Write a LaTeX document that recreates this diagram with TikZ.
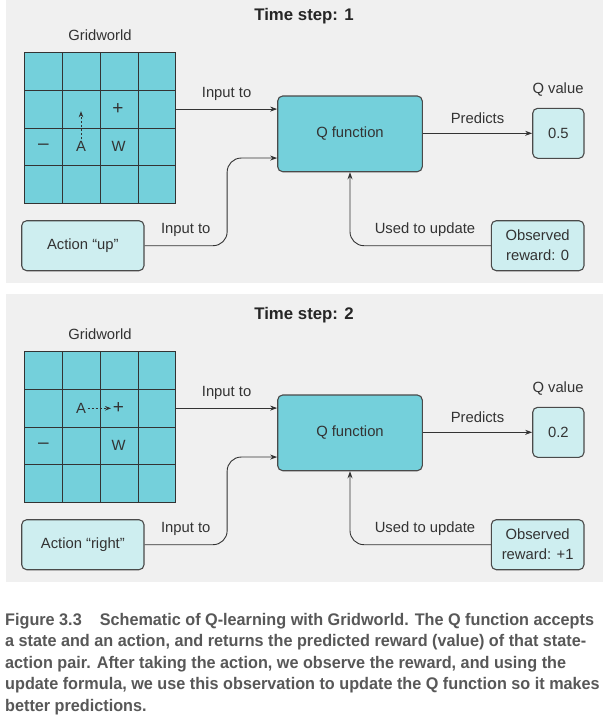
\documentclass[tikz,border=0pt]{standalone}
\usepackage{fontspec}
\setmainfont{Liberation Sans}
\newfontfamily\capfont[FakeStretch=0.965]{Liberation Sans}
\usetikzlibrary{calc,arrows.meta}
\definecolor{panelbg}{HTML}{F0F0F0}
\definecolor{tealfill}{HTML}{74D0DB}
\definecolor{lightfill}{HTML}{CEEEF0}
\definecolor{edgegray}{HTML}{4A4A4A}
\definecolor{ink}{HTML}{333333}
\definecolor{capgray}{HTML}{585858}
\begin{document}
\begin{tikzpicture}[x=1pt,y=-1pt,
  lbl/.style={font=\fontsize{14.8}{20}\selectfont, text=ink, inner sep=0pt},
  ttl/.style={font=\fontsize{16.8}{20}\selectfont\bfseries, text=black!85, inner sep=0pt},
  qbox/.style={draw=edgegray, line width=1.1pt, rounded corners=5pt, fill=tealfill,
    font=\fontsize{14.8}{20}\selectfont, text=ink, minimum width=144.6pt, minimum height=75.7pt},
  vbox/.style={draw=edgegray, line width=1.1pt, rounded corners=5pt, fill=lightfill,
    font=\fontsize{14.8}{20}\selectfont, text=ink, align=center, minimum height=50pt, inner sep=0pt},
  gridbox/.style={draw=ink, line width=1pt, fill=tealfill, minimum width=150.7pt,
    minimum height=150.4pt, inner sep=0pt, anchor=north west},
  gline/.style={draw=ink, line width=1pt},
  cell/.style={font=\fontsize{14.8}{20}\selectfont, text=ink, inner sep=0pt},
  bigsym/.style={font=\fontsize{19}{20}\selectfont, text=ink, inner sep=0pt},
  arr/.style={draw=ink, line width=0.9pt, -{Stealth[length=7pt,width=5pt]}},
  darr/.style={draw=ink, line width=0.8pt, dash pattern=on 2pt off 2pt, -{Stealth[length=6pt,width=4.5pt]}},
  captxt/.style={anchor=base west, inner sep=0pt, font=\capfont\bfseries\fontsize{16.8}{20}\selectfont, text=capgray},
  panel/.style={fill=panelbg, draw=none}
]
\useasboundingbox (0,0) rectangle (607,724);
\fill[white] (0,0) rectangle (607,724);

% ---------- Panel 1 ----------
\path[panel] (6,0) rectangle (602.7,283.3);
\node[ttl] (title1) at (304,16) {Time step: 1};
\node[lbl] (gw1) at (100,35) {Gridworld};
\node[gridbox] (grid1) at (24.3,52.3) {};
\foreach \i in {1,2,3} {
  \draw[gline] ($(grid1.north west)!\i/4!(grid1.north east)$) -- ($(grid1.south west)!\i/4!(grid1.south east)$);
  \draw[gline] ($(grid1.north west)!\i/4!(grid1.south west)$) -- ($(grid1.north east)!\i/4!(grid1.south east)$);
}
\node[bigsym] (plus1) at (117.8,109.3) {+};
\node[bigsym] (minus1) at (43.3,146.7) {–};
\node[cell] (a1) at (81,146.7) {A};
\node[cell] (w1) at (118.5,146.7) {W};
\coordinate (a1tip) at (81,111.2);
\draw[darr, shorten <=2pt] (a1) -- (a1tip);

\node[qbox] (q1) at (350,133.85) {Q function};
\node[vbox, minimum width=51.3pt] (v1) at (558.35,133.3) {0.5};
\node[lbl] (qv1) at (558,90) {Q value};
\node[vbox, minimum width=122.3pt] (act1) at (82.85,245.7) {Action “up”};
\node[vbox, minimum width=92.7pt] (rew1) at (537.65,245.7) {Observed\\reward: 0};

\coordinate (g1out) at ($(grid1.north east)!0.375!(grid1.south east)$);
\draw[arr] (g1out) -- (g1out -| q1.west) node[lbl, midway, above=8pt] (in1a) {Input to};
\coordinate (q1in) at ($(q1.north west)!0.815!(q1.south west)$);
\draw[arr, rounded corners=14pt] (act1.east) -| ([xshift=-50pt]q1in) -- (q1in);
\node[lbl] (in1b) at (185.7,230) {Input to};
\draw[arr] (q1.east |- v1.west) -- (v1.west) node[lbl, midway, above=9pt] (pr1) {Predicts};
\draw[arr, rounded corners=14pt] (rew1.west) -| (q1.south);
\node[lbl] (up1) at (425,230) {Used to update};

% ---------- Panel 2 ----------
\path[panel] (6,294.3) rectangle (602.7,582.3);
\begin{scope}[shift={(0,299)}]
\node[ttl] (title2) at (304,16) {Time step: 2};
\node[lbl] (gw2) at (100,35) {Gridworld};
\node[gridbox] (grid2) at (24.3,52.3) {};
\foreach \i in {1,2,3} {
  \draw[gline] ($(grid2.north west)!\i/4!(grid2.north east)$) -- ($(grid2.south west)!\i/4!(grid2.south east)$);
  \draw[gline] ($(grid2.north west)!\i/4!(grid2.south west)$) -- ($(grid2.north east)!\i/4!(grid2.south east)$);
}
\node[bigsym] (plus2) at (118.3,109.3) {+};
\node[bigsym] (minus2) at (43.3,146.7) {–};
\node[cell] (a2) at (81,109.3) {A};
\node[cell] (w2) at (118.5,146.7) {W};
\draw[darr, shorten <=1.5pt, shorten >=1.5pt] (a2) -- (plus2);

\node[qbox] (q2) at (350,133.85) {Q function};
\node[vbox, minimum width=51.3pt] (v2) at (558.35,133.3) {0.2};
\node[lbl] (qv2) at (558,90) {Q value};
\node[vbox, minimum width=122.3pt] (act2) at (82.85,245.7) {Action “right”};
\node[vbox, minimum width=92.7pt] (rew2) at (537.65,245.7) {Observed\\reward: +1};

\coordinate (g2out) at ($(grid2.north east)!0.375!(grid2.south east)$);
\draw[arr] (g2out) -- (g2out -| q2.west) node[lbl, midway, above=8pt] (in2a) {Input to};
\coordinate (q2in) at ($(q2.north west)!0.815!(q2.south west)$);
\draw[arr, rounded corners=14pt] (act2.east) -| ([xshift=-50pt]q2in) -- (q2in);
\node[lbl] (in2b) at (185.7,230) {Input to};
\draw[arr] (q2.east |- v2.west) -- (v2.west) node[lbl, midway, above=9pt] (pr2) {Predicts};
\draw[arr, rounded corners=14pt] (rew2.west) -| (q2.south);
\node[lbl] (up2) at (425,230) {Used to update};
\end{scope}

% ---------- Caption ----------
\node[captxt] (c1) at (5,625) {Figure 3.3\hspace{18pt}Schematic of Q-learning with Gridworld. The Q function accepts};
\node[captxt] (c2) at (5,646.5) {a state and an action, and returns the predicted reward (value) of that state-};
\node[captxt] (c3) at (5,668) {action pair. After taking the action, we observe the reward, and using the};
\node[captxt] (c4) at (5,689.5) {update formula, we use this observation to update the Q function so it makes};
\node[captxt] (c5) at (5,711) {better predictions.};
\end{tikzpicture}
\end{document}
